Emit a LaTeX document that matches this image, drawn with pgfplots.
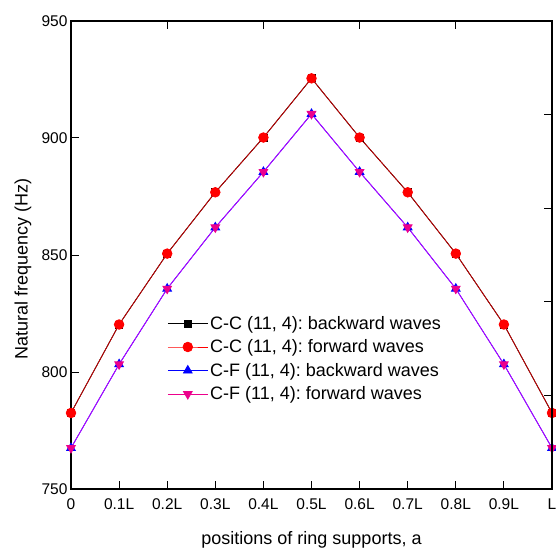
\documentclass[border=0pt]{standalone}
\usepackage{pgfplots}
\usepackage{pgfplotstable}
\pgfplotsset{compat=1.18}
\usepackage{fontspec}
\setmainfont{Liberation Sans}
\frenchspacing
\definecolor{ccline}{RGB}{200,0,0}
\definecolor{cfline}{RGB}{190,0,255}
\pgfplotstableread{
x   cc     cf
0   782.5  767.5
0.1 820.3  803.3
0.2 850.6  835.6
0.3 876.8  861.8
0.4 900.2  885.5
0.5 925.5  910.3
0.6 900.2  885.5
0.7 876.8  861.8
0.8 850.6  835.6
0.9 820.3  803.3
1   782.5  767.5
}\data
\begin{document}
\begin{tikzpicture}
\begin{axis}[
  at={(0,0)}, anchor=south west, scale only axis,
  width=481pt, height=468pt,
  xmin=0, xmax=1, ymin=750, ymax=950,
  xtick={0,0.1,0.2,0.3,0.4,0.5,0.6,0.7,0.8,0.9,1},
  xticklabels={0,0.1L,0.2L,0.3L,0.4L,0.5L,0.6L,0.7L,0.8L,0.9L,L},
  ytick={750,800,850,900,950},
  xtick pos=bottom, ytick pos=left,
  tick align=inside,
  major tick length=8pt,
  tick style={black, line width=1pt},
  axis line style={line width=1.2pt},
  ticklabel style={font=\fontsize{15.5}{15.5}\selectfont},
  xticklabel style={yshift=-6pt},
  /pgf/number format/assume math mode=true,
  xlabel={positions of ring supports, a},
  ylabel={Natural frequency (Hz)},
  label style={font=\fontsize{18}{20}\selectfont},
  xlabel style={at={(axis description cs:0.5,-0.109)}, anchor=center},
  ylabel style={at={(axis description cs:-0.0998,0.47)}, anchor=center},
  legend cell align=left,
  legend style={at={(axis description cs:0.2,0.374)}, anchor=north west,
    draw=none, fill=none, inner sep=0pt,
    font=\fontsize{18}{21.6}\selectfont,
    row sep=5pt},
  legend image code/.code={\draw[mark repeat=2,mark phase=2,#1] plot coordinates {(0pt,0pt) (20pt,0pt) (40pt,0pt)};},
]
\addplot[black, line width=0.8pt, mark=square*, mark size=3.5pt, forget plot] table[x=x,y=cc]{\data};
\addplot[ccline, line width=0.8pt, mark=*, mark size=4.8pt, mark options={red, fill=red}, forget plot] table[x=x,y=cc]{\data};
\addplot[blue, line width=0.8pt, mark=triangle*, mark size=5pt, mark options={blue, fill=blue}, forget plot] table[x=x,y=cf]{\data};
\addplot[cfline, line width=0.8pt, mark=triangle*, mark size=5pt, mark options={rotate=180, magenta, fill=magenta}, forget plot] table[x=x,y=cf]{\data};
\addlegendimage{black, line width=0.8pt, mark=square*, mark size=3.5pt}
\addlegendentry{C-C (11, 4): backward waves}
\addlegendimage{red, line width=0.8pt, mark=*, mark size=4.8pt}
\addlegendentry{C-C (11, 4): forward waves}
\addlegendimage{blue, line width=0.8pt, mark=triangle*, mark size=5pt}
\addlegendentry{C-F (11, 4): backward waves}
\addlegendimage{magenta, line width=0.8pt, mark=triangle*, mark size=5pt, mark options={rotate=180}}
\addlegendentry{C-F (11, 4): forward waves}
\end{axis}
\begin{axis}[
  at={(0,0)}, anchor=south west, scale only axis,
  width=481pt, height=468pt,
  xmin=0, xmax=1, ymin=750, ymax=950,
  axis x line*=top, axis y line*=right,
  xtick={0.2,0.4,0.6,0.8}, ytick={790,830,870,910},
  xticklabels={}, yticklabels={},
  tick align=inside,
  major tick length=8pt,
  tick style={black, line width=1pt},
  axis line style={line width=1.2pt},
]
\end{axis}
\pgfresetboundingbox
\path (-71pt,-66pt) rectangle (485pt,489pt);
\end{tikzpicture}
\end{document}
